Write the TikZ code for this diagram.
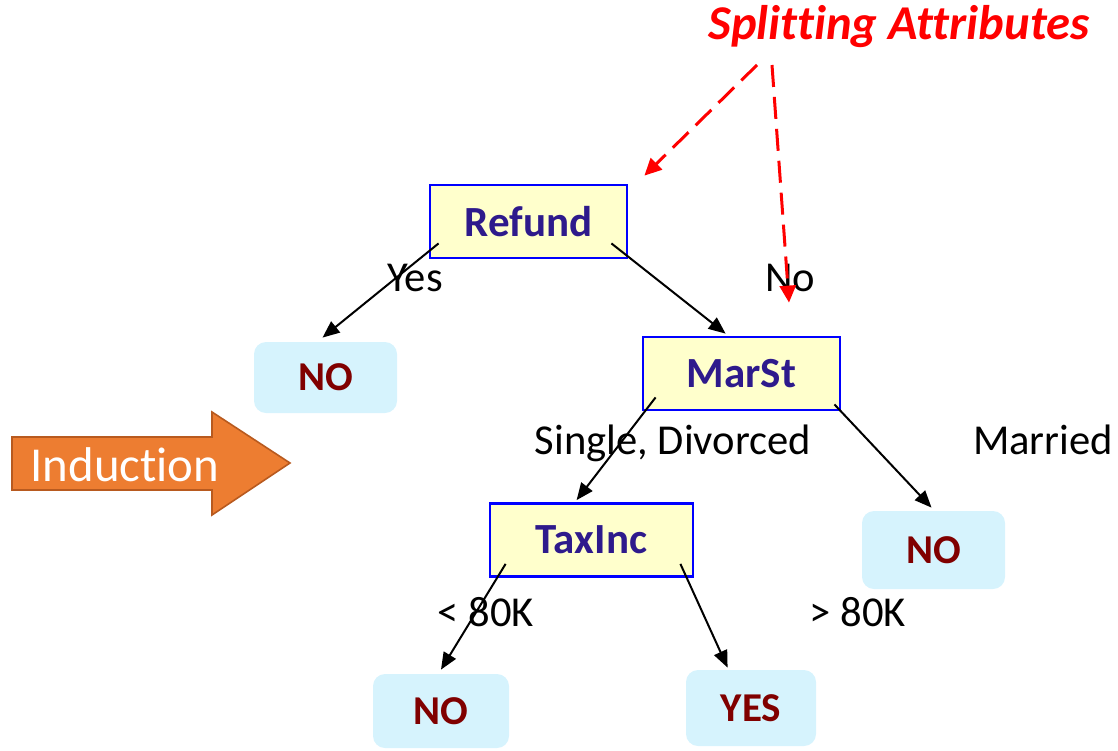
\documentclass[tikz,border=0pt]{standalone}
\usepackage{fontspec}
\setmainfont{Carlito}[Ligatures=NoCommon]
\usetikzlibrary{arrows.meta,positioning}
\definecolor{boxblue}{RGB}{0,0,255}
\definecolor{boxfill}{RGB}{255,255,204}
\definecolor{boxtext}{RGB}{46,26,140}
\definecolor{leaffill}{RGB}{214,243,253}
\definecolor{leaftext}{RGB}{128,0,0}
\definecolor{indfill}{RGB}{237,125,49}
\definecolor{indline}{RGB}{184,90,31}

\begin{document}
\begin{tikzpicture}[x=0.5pt,y=-0.5pt,
  attr/.style = {shape=rectangle, draw=boxblue, line width=1.4pt,
    fill=boxfill, text=boxtext, inner sep=0pt,
    minimum width=98.5pt, minimum height=36.5pt,
    font=\fontsize{21.5}{25}\selectfont\bfseries},
  leaf/.style = {shape=rectangle, rounded corners=6pt, fill=leaffill,
    text=leaftext, inner sep=0pt,
    font=\fontsize{20.5}{24}\selectfont\bfseries},
  lbl/.style = {inner sep=0pt, font=\fontsize{21.3}{25}\selectfont},
  edge/.style = {line width=1pt, -{Triangle[length=8.5pt,width=7pt]}},
  hint/.style = {red, line width=1.5pt, dash pattern=on 11pt off 5pt,
    -{Triangle[length=8.5pt,width=8pt]}}]
  \useasboundingbox (0,0) rectangle (1118,750);

  % tests and leaves
  \node[attr] (refund) at (528.5,221.5) {Refund};
  \node[attr] (marst) at (741.5,373.5) {MarSt};
  \node[attr, minimum width=101.5pt] (taxinc) at (591.5,540) {TaxInc};
  \node[leaf, minimum width=71.5pt, minimum height=35.5pt] (noa) at (325.5,377.5) {NO};
  \node[leaf, minimum width=71.5pt, minimum height=39pt] (nob) at (933.5,550) {NO};
  \node[leaf, minimum width=68pt, minimum height=37pt] (noc) at (441,711) {NO};
  \node[leaf, minimum width=65pt, minimum height=38pt] (yes) at (751,708) {YES};

  % branch labels
  \node[lbl] (lyes) at (415,278) {Yes};
  \node[lbl] (lno) at (790,278) {No};
  \node[lbl] (lsd) at (673,443) {Single, Divorced};
  \node[lbl] (lmar) at (1043,440) {Married};
  \node[lbl] (llt) at (486,612) {< 80K};
  \node[lbl] (lgt) at (858,612) {> 80K};

  % branches
  \draw[edge] ([shift={(10,-16)}]refund.south west) -- ([shift={(-3,-4)}]noa.north);
  \draw[edge] ([shift={(-17,-16)}]refund.south east) -- ([shift={(84,-2)}]marst.north west);
  \draw[edge] ([shift={(14,-14)}]marst.south west) -- ([shift={(88,-2)}]taxinc.north west);
  \draw[edge] ([shift={(-7,-7)}]marst.south east) -- ([shift={(-2,-3)}]nob.north);
  \draw[edge] ([shift={(17,-14)}]taxinc.south west) -- ([shift={(0,-4)}]noc.north);
  \draw[edge] ([shift={(-14,-14)}]taxinc.south east) -- ([shift={(42,-2)}]yes.north west);

  % induction arrow
  \draw[fill=indfill, draw=indline, line width=0.8pt]
    (12,437) -- (212,437) -- (212,412) -- (290,463) -- (212,515)
    -- (212,490) -- (12,490) -- cycle;
  \node[lbl, text=white, font=\fontsize{24.4}{28}\selectfont] (induct) at (125,465) {Induction};

  % splitting attributes
  \node[lbl, text=red, font=\fontsize{24.3}{28}\selectfont\bfseries\itshape] (split) at (899,27) {Splitting Attributes};
  \coordinate (sa) at (757,65);
  \coordinate (sb) at (772,65);
  \draw[hint] (sa) -- ([shift={(16,-8)}]refund.north east);
  \draw[hint] (sb) -- ([shift={(47.5,-33)}]marst.north);
\end{tikzpicture}
\end{document}
